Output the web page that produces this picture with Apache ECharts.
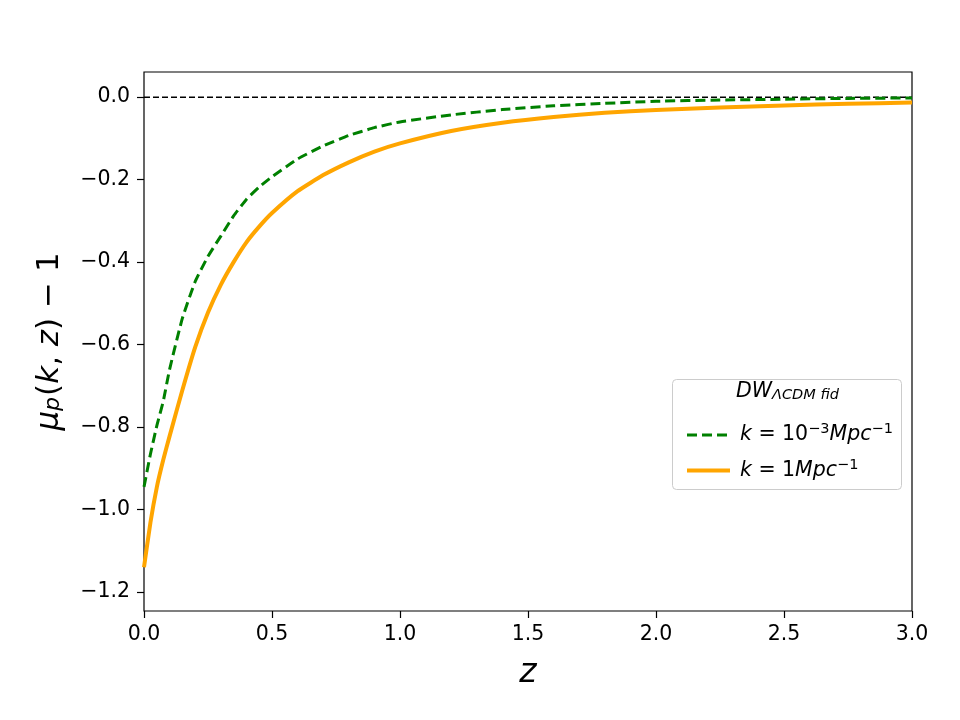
<!DOCTYPE html>
<html>
<head>
<meta charset="utf-8">
<title>mu_p(k,z) - 1</title>
<script src="https://cdn.jsdelivr.net/npm/echarts@6/dist/echarts.min.js"></script>
<style>
  html, body { margin: 0; padding: 0; background: #fff; }
  #chart { width: 960px; height: 720px; }
</style>
</head>
<body>
<div id="chart"></div>
<script>
// redshift grid, shared by both curves
const zGrid = [0, 0.025, 0.05, 0.075, 0.1, 0.15, 0.2, 0.25, 0.3, 0.35, 0.4, 0.45, 0.5,
  0.6, 0.7, 0.8, 0.9, 1.0, 1.2, 1.4, 1.6, 1.8, 2.0, 2.25, 2.5, 2.75, 3.0]
// k = 1e-3 Mpc^-1 (green dashed)
const muLowK = [-0.945, -0.866, -0.797, -0.738, -0.66, -0.536, -0.447, -0.386, -0.337, -0.288,
  -0.248, -0.218, -0.193, -0.15, -0.118, -0.093, -0.074, -0.06, -0.043, -0.03, -0.021,
  -0.015, -0.01, -0.007, -0.005, -0.003, -0.002]
// k = 1 Mpc^-1 (orange)
const muHighK = [-1.14, -1.032, -0.946, -0.88, -0.822, -0.71, -0.606, -0.522, -0.455, -0.4,
  -0.352, -0.314, -0.281, -0.228, -0.189, -0.158, -0.132, -0.112, -0.082, -0.062, -0.048,
  -0.038, -0.031, -0.025, -0.02, -0.016, -0.013]
const yTicks = [-1.2, -1.0, -0.8, -0.6, -0.4, -0.2, 0.0]

const FONT = 'DejaVu Sans'
const pair = (xs, ys) => xs.map((x, i) => [x, ys[i]])
const fmt = v => (v < 0 ? '\u2212' : '') + Math.abs(v).toFixed(1)

const chart = echarts.init(document.getElementById('chart'))

const option = {
  backgroundColor: '#fff',
  animation: false,
  textStyle: { fontFamily: FONT },
  grid: {
    left: 144, right: 48, top: 72, bottom: 109,
    show: true, borderColor: '#000', borderWidth: 1.2,
    containLabel: false
  },
  xAxis: {
    type: 'value',
    min: 0, max: 3, interval: 0.5,
    axisLine: { show: false, onZero: false },
    axisTick: { show: true, inside: false, length: 7, lineStyle: { color: '#000', width: 1.2 } },
    axisLabel: { color: '#000', fontSize: 20.5, margin: 13, formatter: fmt },
    splitLine: { show: false },
    name: 'z',
    nameLocation: 'middle',
    nameGap: 46,
    nameTextStyle: { color: '#000', fontSize: 33, fontStyle: 'italic', fontFamily: FONT }
  },
  yAxis: {
    type: 'value',
    min: -1.246, max: 0.061,
    axisLine: { show: false, onZero: false },
    axisTick: {
      show: true, length: 7, customValues: yTicks,
      lineStyle: { color: '#000', width: 1.2 }
    },
    axisLabel: {
      color: '#000', fontSize: 20.5, margin: 14,
      customValues: yTicks, formatter: fmt
    },
    splitLine: { show: false },
    name: '{i|μ}{sub|p}{n|(}{i|k}{n|, }{i|z}{n|) − 1}',
    nameLocation: 'middle',
    nameRotate: 90,
    nameGap: 72,
    nameTextStyle: {
      color: '#000',
      rich: {
        i: { fontSize: 31, fontStyle: 'italic', fontFamily: FONT, padding: [0, 0, 7, 0] },
        n: { fontSize: 31, fontFamily: FONT, padding: [0, 0, 7, 0] },
        sub: { fontSize: 22, fontStyle: 'italic', fontFamily: FONT, padding: [0, 1, 0, 0] }
      }
    }
  },
  legend: {
    orient: 'vertical',
    left: 680, top: 417,
    itemWidth: 43, itemHeight: 14, itemGap: 12,
    data: [
      { name: 'low', itemStyle: { opacity: 0 }, lineStyle: { color: '#008000', width: 3, type: [10, 5] } },
      { name: 'high', itemStyle: { opacity: 0 }, lineStyle: { color: '#ffa500', width: 4 } }
    ],
    z: 10,
    formatter: name => name === 'low'
      ? '{m|k}{n| = 10}{sup|−3}{i|Mpc}{sup|−1}'
      : '{m|k}{n| = 1}{i|Mpc}{sup|−1}',
    textStyle: {
      color: '#000',
      rich: {
        m: { fontSize: 20.5, fontStyle: 'italic', fontFamily: FONT, padding: [0, 0, 0, 5] },
        i: { fontSize: 20.5, fontStyle: 'italic', fontFamily: FONT },
        n: { fontSize: 20.5, fontFamily: FONT },
        sup: { fontSize: 14.5, fontFamily: FONT, padding: [0, 0, 11, 0] }
      }
    }
  },
  graphic: [
    {
      type: 'rect', z: 5,
      shape: { x: 672.5, y: 379.5, width: 229, height: 110, r: 4 },
      style: { fill: 'rgba(255,255,255,0.8)', stroke: '#cccccc', lineWidth: 1 }
    },
    {
      type: 'text', z: 6,
      left: 736, top: 382,
      style: {
        text: '{m|DW}{sub|ΛCDM fid}',
        rich: {
          m: { fontSize: 20.5, fontStyle: 'italic', fontFamily: FONT, fill: '#000', padding: [0, 0, 6, 0] },
          sub: { fontSize: 14.5, fontStyle: 'italic', fontFamily: FONT, fill: '#000' }
        }
      }
    }
  ],
  series: [
    {
      name: 'zero',
      type: 'line',
      data: [[0, 0], [3, 0]],
      symbol: 'none',
      lineStyle: { color: '#000', width: 1.5, type: [6, 3] },
      z: 3
    },
    {
      name: 'low',
      type: 'line',
      data: pair(zGrid, muLowK),
      smooth: 0.15,
      symbol: 'none',
      color: '#008000',
      lineStyle: { color: '#008000', width: 3, type: [10, 5] },
      z: 4
    },
    {
      name: 'high',
      type: 'line',
      data: pair(zGrid, muHighK),
      smooth: 0.15,
      symbol: 'none',
      color: '#ffa500',
      lineStyle: { color: '#ffa500', width: 4 },
      z: 4
    }
  ]
}

chart.setOption(option)
</script>
</body>
</html>
